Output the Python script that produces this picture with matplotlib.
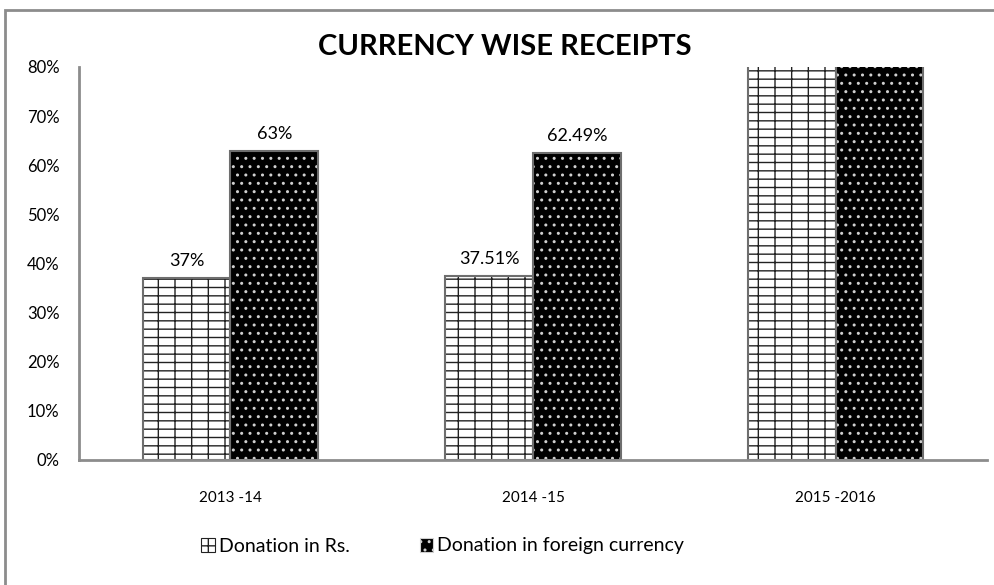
import matplotlib

matplotlib.use("Agg")
import matplotlib.pyplot as plt
import numpy as np
from matplotlib.patches import Rectangle, Patch

plt.rcParams["font.family"] = ["Lato", "DejaVu Sans"]
plt.rcParams["hatch.linewidth"] = 1.0

years = ["2013 -14", "2014 -15", "2015 -2016"]
rs_share = [37, 37.51, 95]          # last group runs off the top of the axis
foreign_share = [63, 62.49, 95]
rs_labels = ["37%", "37.51%", ""]
foreign_labels = ["63%", "62.49%", ""]
yticks = [0, 10, 20, 30, 40, 50, 60, 70, 80]

GRID = "#8c8c8c"

fig = plt.figure(figsize=(9.95, 5.85), dpi=100)
ax = fig.add_axes([79 / 995, 1 - 460 / 585, 908 / 995, 393 / 585])

x = np.arange(len(years))
w = 0.29

# hatched fill first, outline on top so hatch colour and edge colour can differ
ax.bar(x - w / 2, rs_share, w, color="white", edgecolor="#222222", hatch="-+", linewidth=0)
ax.bar(x + w / 2, foreign_share, w, color="black", edgecolor="#d0d0d0", hatch="..", linewidth=0)
ax.bar(x - w / 2, rs_share, w, fill=False, edgecolor="#6e6e6e", linewidth=1.5)
ax.bar(x + w / 2, foreign_share, w, fill=False, edgecolor="#6e6e6e", linewidth=1.5)

for xi, v, lab in zip(x, rs_share, rs_labels):
    if lab:
        ax.text(xi - w / 2, v + 1.8, lab, ha="center", va="bottom", fontsize=13)
for xi, v, lab in zip(x, foreign_share, foreign_labels):
    if lab:
        ax.text(xi + w / 2, v + 1.8, lab, ha="center", va="bottom", fontsize=13)

ax.set_xlim(-0.5, 2.5)
ax.set_ylim(0, 80)
ax.set_yticks(yticks)
ax.set_yticklabels([f"{t}%" for t in yticks], fontsize=12)
ax.set_xticks(x)
ax.set_xticklabels(years, fontsize=11)
ax.tick_params(axis="both", length=0)
ax.tick_params(axis="y", pad=14)
ax.tick_params(axis="x", pad=22)
for s in ["top", "right"]:
    ax.spines[s].set_visible(False)
for s in ["left", "bottom"]:
    ax.spines[s].set_color(GRID)
    ax.spines[s].set_linewidth(2)

fig.text(505 / 995, 1 - 47 / 585, "CURRENCY WISE RECEIPTS", ha="center", va="center",
         fontsize=21, fontweight="bold")

handles = [
    Patch(facecolor="white", edgecolor="#222222", hatch="-+", linewidth=0.8),
    Patch(facecolor="black", edgecolor="#d0d0d0", hatch="..", linewidth=0.8),
]
fig.legend(handles, ["Donation in Rs.", "Donation in foreign currency"],
           loc="center", bbox_to_anchor=(0.445, 1 - 546 / 585), ncol=2, frameon=False,
           fontsize=14, handlelength=0.7, handleheight=0.7, handletextpad=0.2,
           columnspacing=3.6)

fig.add_artist(Rectangle((5 / 995, -0.1), 1.1, 1 - 10 / 585 + 0.1, transform=fig.transFigure,
                         fill=False, edgecolor=GRID, linewidth=2))

fig.savefig("out.png", dpi=100)
